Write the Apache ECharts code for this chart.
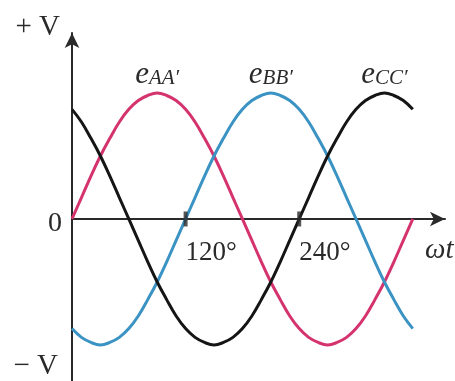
<!DOCTYPE html>
<html>
<head>
<meta charset="utf-8">
<script src="https://cdn.jsdelivr.net/npm/echarts@6/dist/echarts.min.js"></script>
<style>
  html, body { margin: 0; padding: 0; background: #fff; }
  #chart { width: 455px; height: 381px; }
</style>
</head>
<body>
<div id="chart"></div>
<script>
// Electrical angle ωt in degrees, one full cycle sampled every 10°
const angles = [0, 10, 20, 30, 40, 50, 60, 70, 80, 90, 100, 110, 120, 130, 140, 150, 160, 170, 180,
                190, 200, 210, 220, 230, 240, 250, 260, 270, 280, 290, 300, 310, 320, 330, 340, 350, 360];

// Phase voltages (per unit of peak V)
const eAA = [0, 0.17, 0.34, 0.5, 0.64, 0.77, 0.87, 0.94, 0.98, 1, 0.98, 0.94, 0.87, 0.77, 0.64, 0.5, 0.34, 0.17, 0,
             -0.17, -0.34, -0.5, -0.64, -0.77, -0.87, -0.94, -0.98, -1, -0.98, -0.94, -0.87, -0.77, -0.64, -0.5, -0.34, -0.17, 0];
const eBB = [-0.87, -0.94, -0.98, -1, -0.98, -0.94, -0.87, -0.77, -0.64, -0.5, -0.34, -0.17, 0, 0.17, 0.34, 0.5, 0.64, 0.77, 0.87,
             0.94, 0.98, 1, 0.98, 0.94, 0.87, 0.77, 0.64, 0.5, 0.34, 0.17, 0, -0.17, -0.34, -0.5, -0.64, -0.77, -0.87];
const eCC = [0.87, 0.77, 0.64, 0.5, 0.34, 0.17, 0, -0.17, -0.34, -0.5, -0.64, -0.77, -0.87, -0.94, -0.98, -1, -0.98, -0.94, -0.87,
             -0.77, -0.64, -0.5, -0.34, -0.17, 0, 0.17, 0.34, 0.5, 0.64, 0.77, 0.87, 0.94, 0.98, 1, 0.98, 0.94, 0.87];

const phaseNames = ['AA′', 'BB′', 'CC′'];
const phaseColors = ['#d4336d', '#3a93c3', '#151515'];

// Marked angles on the ωt axis
const tickAngles = [120, 240];
const tickStep = 120;

const serif = '"Liberation Serif", "DejaVu Serif", serif';
const ink = '#2a2a2a';

// Plot area and voltage range
const W = 455, H = 381;
const gridBox = { left: 72, right: 10, top: 33, bottom: 0 };
const yMin = -1.286, yMax = 1.476;
const xMax = 394;
// the ωt axis sits on the zero-voltage line
const zeroOffset = -(H - gridBox.top - gridBox.bottom) * (0 - yMin) / (yMax - yMin);

function pairs(values) {
  return angles.map((a, i) => [a, values[i]]);
}

function phaseSeries(values, idx) {
  return {
    type: 'line',
    data: pairs(values),
    smooth: 0.4,
    showSymbol: false,
    silent: true,
    z: 3,
    lineStyle: { color: phaseColors[idx], width: 3 },
    itemStyle: { color: phaseColors[idx] },
    markPoint: {
      symbol: 'circle',
      symbolSize: 0,
      silent: true,
      data: [{ type: 'max' }],
      label: {
        show: true,
        position: 'top',
        distance: 4,
        formatter: '{e|e}{s|' + phaseNames[idx] + '}',
        rich: {
          e: { fontFamily: serif, fontStyle: 'italic', fontSize: 31, lineHeight: 30, color: ink, verticalAlign: 'top' },
          s: { fontFamily: serif, fontStyle: 'italic', fontSize: 21, lineHeight: 20, color: ink, padding: [16, 0, 0, 0], verticalAlign: 'bottom' }
        }
      }
    }
  };
}

const axisLineStyle = { color: ink, width: 2 };

const chart = echarts.init(document.getElementById('chart'), null, { renderer: 'canvas' });
chart.setOption({
  animation: false,
  backgroundColor: '#fff',
  grid: Object.assign({ containLabel: false, outerBoundsMode: 'none' }, gridBox),
  xAxis: {
    type: 'value',
    min: 0,
    max: xMax,
    interval: tickStep,
    position: 'bottom',
    offset: zeroOffset,
    axisLine: { onZero: false, symbol: ['none', 'arrow'], symbolSize: [11, 15], lineStyle: axisLineStyle },
    axisTick: { show: false },
    splitLine: { show: false },
    axisLabel: {
      showMinLabel: true,
      showMaxLabel: false,
      formatter: v => (tickAngles.indexOf(v) >= 0 ? v + '°' : ''),
      align: 'left',
      verticalAlign: 'top',
      margin: 20,
      fontFamily: serif,
      fontSize: 27,
      color: ink
    },
    name: 'ωt',
    nameLocation: 'end',
    nameGap: -20,
    nameTextStyle: {
      align: 'left',
      verticalAlign: 'top',
      padding: [17, 0, 0, 0],
      fontFamily: serif,
      fontStyle: 'italic',
      fontSize: 29,
      color: ink
    }
  },
  yAxis: [{
    type: 'value',
    min: yMin,
    max: yMax,
    axisLine: { onZero: false, symbol: ['none', 'arrow'], symbolSize: [11, 15], lineStyle: axisLineStyle },
    axisTick: { show: false },
    splitLine: { show: false },
    axisLabel: {
      customValues: [0],
      formatter: () => '{z|0}',
      margin: 10,
      rich: {
        z: { fontFamily: serif, fontSize: 28, lineHeight: 28, color: ink, padding: [10, 0, 0, 0] }
      }
    },
    name: '+ V',
    nameLocation: 'end',
    nameGap: 6,
    nameTextStyle: { align: 'right', verticalAlign: 'middle', padding: [0, 12, 0, 0], fontFamily: serif, fontSize: 29, color: ink }
  }, {
    type: 'value',
    min: yMin,
    max: yMax,
    position: 'left',
    axisLine: { show: false, onZero: false },
    axisTick: { show: false },
    axisLabel: { show: false },
    splitLine: { show: false },
    name: '− V',
    nameLocation: 'start',
    nameGap: -15,
    nameTextStyle: { align: 'right', verticalAlign: 'middle', padding: [0, 14, 0, 0], fontFamily: serif, fontSize: 29, color: ink }
  }],
  series: [
    phaseSeries(eAA, 0),
    phaseSeries(eBB, 1),
    phaseSeries(eCC, 2),
    {
      type: 'scatter',
      data: tickAngles.map(a => [a, 0]),
      symbol: 'rect',
      symbolSize: [4, 15],
      silent: true,
      z: 5,
      itemStyle: { color: ink }
    }
  ]
});
</script>
</body>
</html>
